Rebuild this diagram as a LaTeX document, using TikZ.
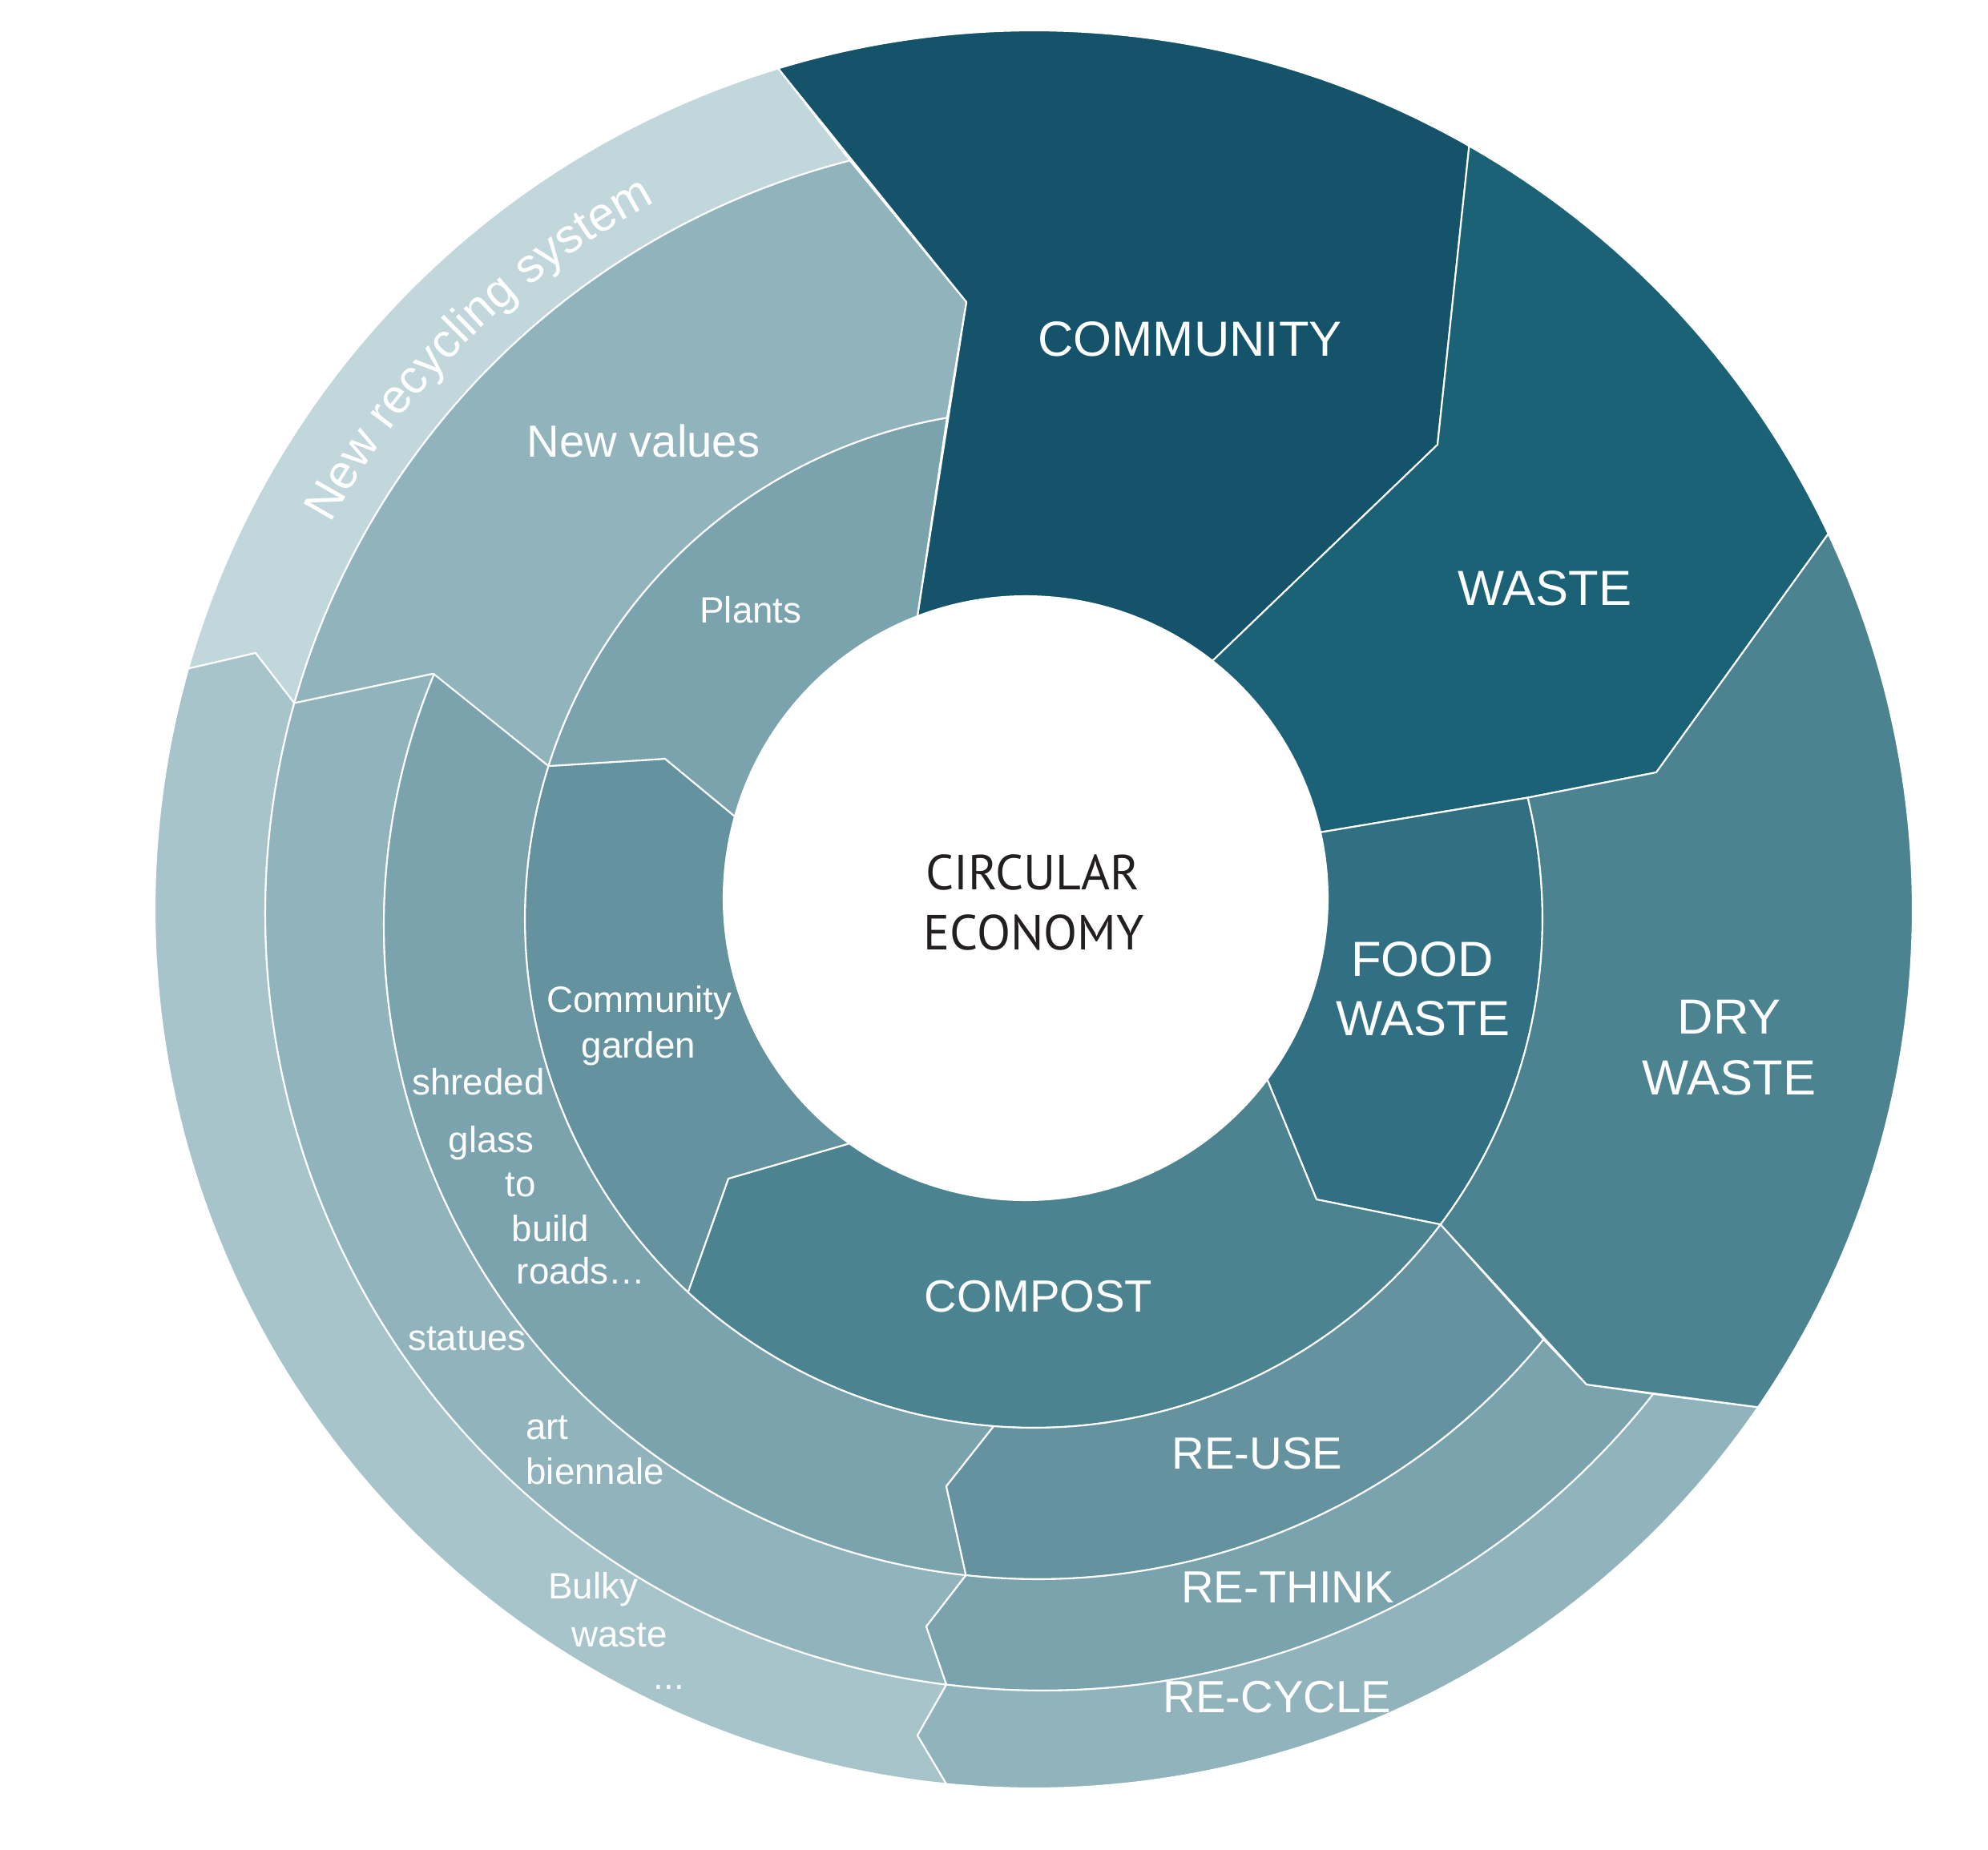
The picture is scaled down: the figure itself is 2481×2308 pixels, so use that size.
\documentclass[tikz,border=0pt]{standalone}
\usepackage{fontspec}
\setmainfont{Liberation Sans}
\newfontfamily\centerfont{PT Sans}
\usetikzlibrary{decorations.text}
\definecolor{cComm}{HTML}{14536A}
\definecolor{cWaste}{HTML}{1B6277}
\definecolor{cFood}{HTML}{317083}
\definecolor{cDry}{HTML}{4B8391}
\definecolor{cMid}{HTML}{64939F}
\definecolor{cLight}{HTML}{7AA3AE}
\definecolor{cLighter}{HTML}{90B3BC}
\definecolor{cPale}{HTML}{A7C4CB}
\definecolor{cPalest}{HTML}{C1D7DC}
\definecolor{cInk}{HTML}{231F20}
% arcs of the rings (image coordinates, y downwards, angles in degrees)
\newcommand\ringO[2]{plot[domain=#1:#2,samples=120,variable=\t]({1280+377*cos(\t)},{1121+377*sin(\t)})}
\newcommand\ringB[2]{plot[domain=#1:#2,samples=120,variable=\t]({1290+635*cos(\t)},{1147+635*sin(\t)})}
\newcommand\ringC[2]{plot[domain=#1:#2,samples=120,variable=\t]({1295+816*cos(\t)},{1155+816*sin(\t)})}
\newcommand\ringD[2]{plot[domain=#1:#2,samples=120,variable=\t]({1301+970*cos(\t)},{1140+970*sin(\t)})}
\newcommand\ringE[2]{plot[domain=#1:#2,samples=160,variable=\t]({1290+1097*cos(\t)},{1135+1097*sin(\t)})}
\newcommand\toO[2]{-- plot[domain=#1:#2,samples=120,variable=\t]({1280+377*cos(\t)},{1121+377*sin(\t)})}
\newcommand\toB[2]{-- plot[domain=#1:#2,samples=120,variable=\t]({1290+635*cos(\t)},{1147+635*sin(\t)})}
\newcommand\toC[2]{-- plot[domain=#1:#2,samples=120,variable=\t]({1295+816*cos(\t)},{1155+816*sin(\t)})}
\newcommand\toD[2]{-- plot[domain=#1:#2,samples=120,variable=\t]({1301+970*cos(\t)},{1140+970*sin(\t)})}
\newcommand\toE[2]{-- plot[domain=#1:#2,samples=160,variable=\t]({1290+1097*cos(\t)},{1135+1097*sin(\t)})}
\begin{document}
\begin{tikzpicture}[x=0.01cm,y=-0.01cm,
  region/.style={draw=white,line width=0.6pt,line join=round},
  big/.style={text=white,anchor=base,inner sep=0pt,font=\fontsize{17.5}{21}\selectfont},
  mid/.style={text=white,anchor=base,inner sep=0pt,font=\fontsize{16}{19}\selectfont},
  small/.style={text=white,anchor=base,inner sep=0pt,font=\fontsize{13}{15.6}\selectfont},
  core/.style={text=cInk,anchor=base,inner sep=0pt,font=\centerfont\fontsize{17.5}{21}\selectfont}]
\useasboundingbox (0,0) rectangle (2481,2308);
\fill[white] (0,0) rectangle (2481,2308);
% inner ring
\path[region,fill=cComm] \ringE{253.1}{299.7} -- (1794,555) \toO{308.2}{249.0} -- (1206,377) -- cycle;
\path[region,fill=cWaste] \ringE{299.7}{334.7} -- (2067,964) -- (1909,995) \toO{347.4}{308.2} -- (1794,555) -- cycle;
\path[region,fill=cFood] \ringO{347.4}{396.9} -- (1643,1497) \toB{396.9}{346.2} -- cycle;
\path[region,fill=cDry] \ringO{36.9}{125.7} -- (909,1471) \toB{132.8}{36.9} -- (1643,1497) -- cycle;
\path[region,fill=cMid] \ringO{125.7}{195.7} -- (830,947) \toB{197.5}{132.8} -- (909,1471) -- cycle;
\path[region,fill=cLight] \ringO{195.7}{249.0} \toB{260.2}{197.5} -- (830,947) -- cycle;
% outer rings
\path[region,fill=cLighter] \ringD{195.7}{255.65} -- (1206,377) \toB{260.2}{197.5} -- (540,841) -- cycle;
\path[region,fill=cPalest] \ringE{195.9}{253.1} \toD{255.65}{195.7} -- (319,815) -- cycle;
\path[region,fill=cPale] \ringE{95.7}{195.9} -- (319,815) \toD{195.7}{97.1} -- (1145,2166) -- cycle;
\path[region,fill=cLighter] \ringD{97.1}{195.7} -- (540,841) \toC{202.6}{96.3} -- (1156,2030) -- cycle;
\path[region,fill=cLight] \ringC{96.3}{202.6} \toB{197.5}{94.5} -- (1181,1855) -- cycle;
\path[region,fill=cMid] \ringB{94.5}{36.9} \toC{39.3}{96.3} -- (1181,1855) -- cycle;
\path[region,fill=cLight] \ringC{96.3}{39.3} -- (1980,1728) \toD{38.2}{97.1} -- (1156,2030) -- cycle;
\path[region,fill=cLighter] \ringD{97.1}{38.2} \toE{34.5}{95.7} -- (1145,2166) -- cycle;
\path[region,fill=cDry] \ringE{-25.3}{34.5} -- (1980,1728) \toB{36.9}{-13.8} -- (2067,964) -- cycle;
% curved label
\path[decorate,decoration={text along path,text align=center,
  text={|\color{white}\fontsize{17}{20}\selectfont|New recycling system}}]
  plot[domain=196:254.6,samples=200,variable=\t]({1290+1001*cos(\t)},{1135+1001*sin(\t)});
% labels
\node[core] (circ) at (1289,1110) {CIRCULAR};
\node[core] (econ) at (1290,1185) {ECONOMY};
\node[big] (comm) at (1485,444) {COMMUNITY};
\node[big] (waste) at (1928,755) {WASTE};
\node[big] (food1) at (1775,1218) {FOOD};
\node[big] (food2) at (1776,1292) {WASTE};
\node[big] (dry1) at (2158,1290) {DRY};
\node[big] (dry2) at (2158,1366) {WASTE};
\node[mid] (compost) at (1296,1637) {COMPOST};
\node[mid] (reuse) at (1569,1833) {RE-USE};
\node[mid] (rethink) at (1607,2000) {RE-THINK};
\node[mid] (recycle) at (1594,2137) {RE-CYCLE};
\node[mid] (values) at (803,570) {New values};
\node[small] (plants) at (937,777) {Plants};
\node[small] (cg1) at (798,1263) {Community};
\node[small] (cg2) at (797,1320) {garden};
\node[small] (sh1) at (597,1366) {shreded};
\node[small] (sh2) at (613,1438) {glass};
\node[small] (sh3) at (650,1493) {to};
\node[small] (sh4) at (687,1549) {build};
\node[small] (sh5) at (725,1602) {roads…};
\node[small] (st1) at (583,1685) {statues};
\node[small] (st2) at (683,1796) {art};
\node[small] (st3) at (743,1852) {biennale};
\node[small] (bw1) at (740,1995) {Bulky};
\node[small] (bw2) at (773,2055) {waste};
\node[small] (bw3) at (835,2108) {...};
\end{tikzpicture}
\end{document}
